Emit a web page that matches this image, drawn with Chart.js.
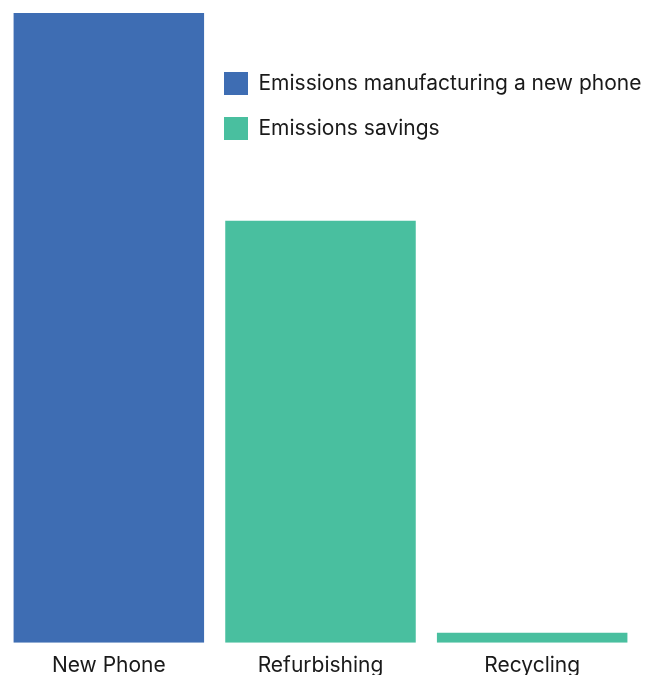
<!DOCTYPE html>
<html>
<head>
<meta charset="utf-8">
<script src="https://cdn.jsdelivr.net/npm/chart.js@4.4.1/dist/chart.umd.min.js"></script>
<style>
  html, body { margin: 0; padding: 0; background: #fff; }
  .chart-box { width: 653px; height: 675px; }
</style>
</head>
<body>
<div class="chart-box"><canvas id="barChartCanvas"></canvas></div>
<script>
// categories and values (relative emissions, new phone = 100)
const categories = ["New Phone", "Refurbishing", "Recycling"];
const newPhoneEmissions = [100, null, null];
const emissionSavings = [null, 67, 1.6];
const seriesNames = ["Emissions manufacturing a new phone", "Emissions savings"];

const blue = "#3e6db3";
const green = "#49bf9f";

// move the legend to the top right, over the chart area
const legendMover = {
  id: "legendMover",
  afterLayout(chart) {
    const lg = chart.legend;
    const x = 202, y = 50;
    lg.left = x;
    lg.right = x + lg.width;
    lg.top = y;
    lg.bottom = y + lg.height;
  }
};

new Chart(document.getElementById("barChartCanvas"), {
  type: "bar",
  data: {
    labels: categories,
    datasets: [
      { label: seriesNames[0], data: newPhoneEmissions, backgroundColor: blue },
      { label: seriesNames[1], data: emissionSavings, backgroundColor: green }
    ]
  },
  options: {
    responsive: true,
    maintainAspectRatio: false,
    animation: false,
    layout: { padding: { left: 3, right: 15, top: 13, bottom: -13 } },
    datasets: { bar: { barPercentage: 0.9, categoryPercentage: 1.0 } },
    scales: {
      x: {
        stacked: true,
        grid: { display: false, drawTicks: false },
        border: { display: false },
        ticks: { color: "#1a1a1a", font: { family: "Inter", size: 21 }, padding: 10 }
      },
      y: {
        stacked: true,
        display: false,
        min: 0,
        max: 100
      }
    },
    plugins: {
      tooltip: { enabled: false },
      legend: {
        position: "chartArea",
        align: "start",
        labels: {
          boxWidth: 24,
          boxHeight: 23,
          padding: 22,
          color: "#1a1a1a",
          font: { family: "Inter", size: 21 }
        }
      }
    }
  },
  plugins: [legendMover]
});
</script>
</body>
</html>
